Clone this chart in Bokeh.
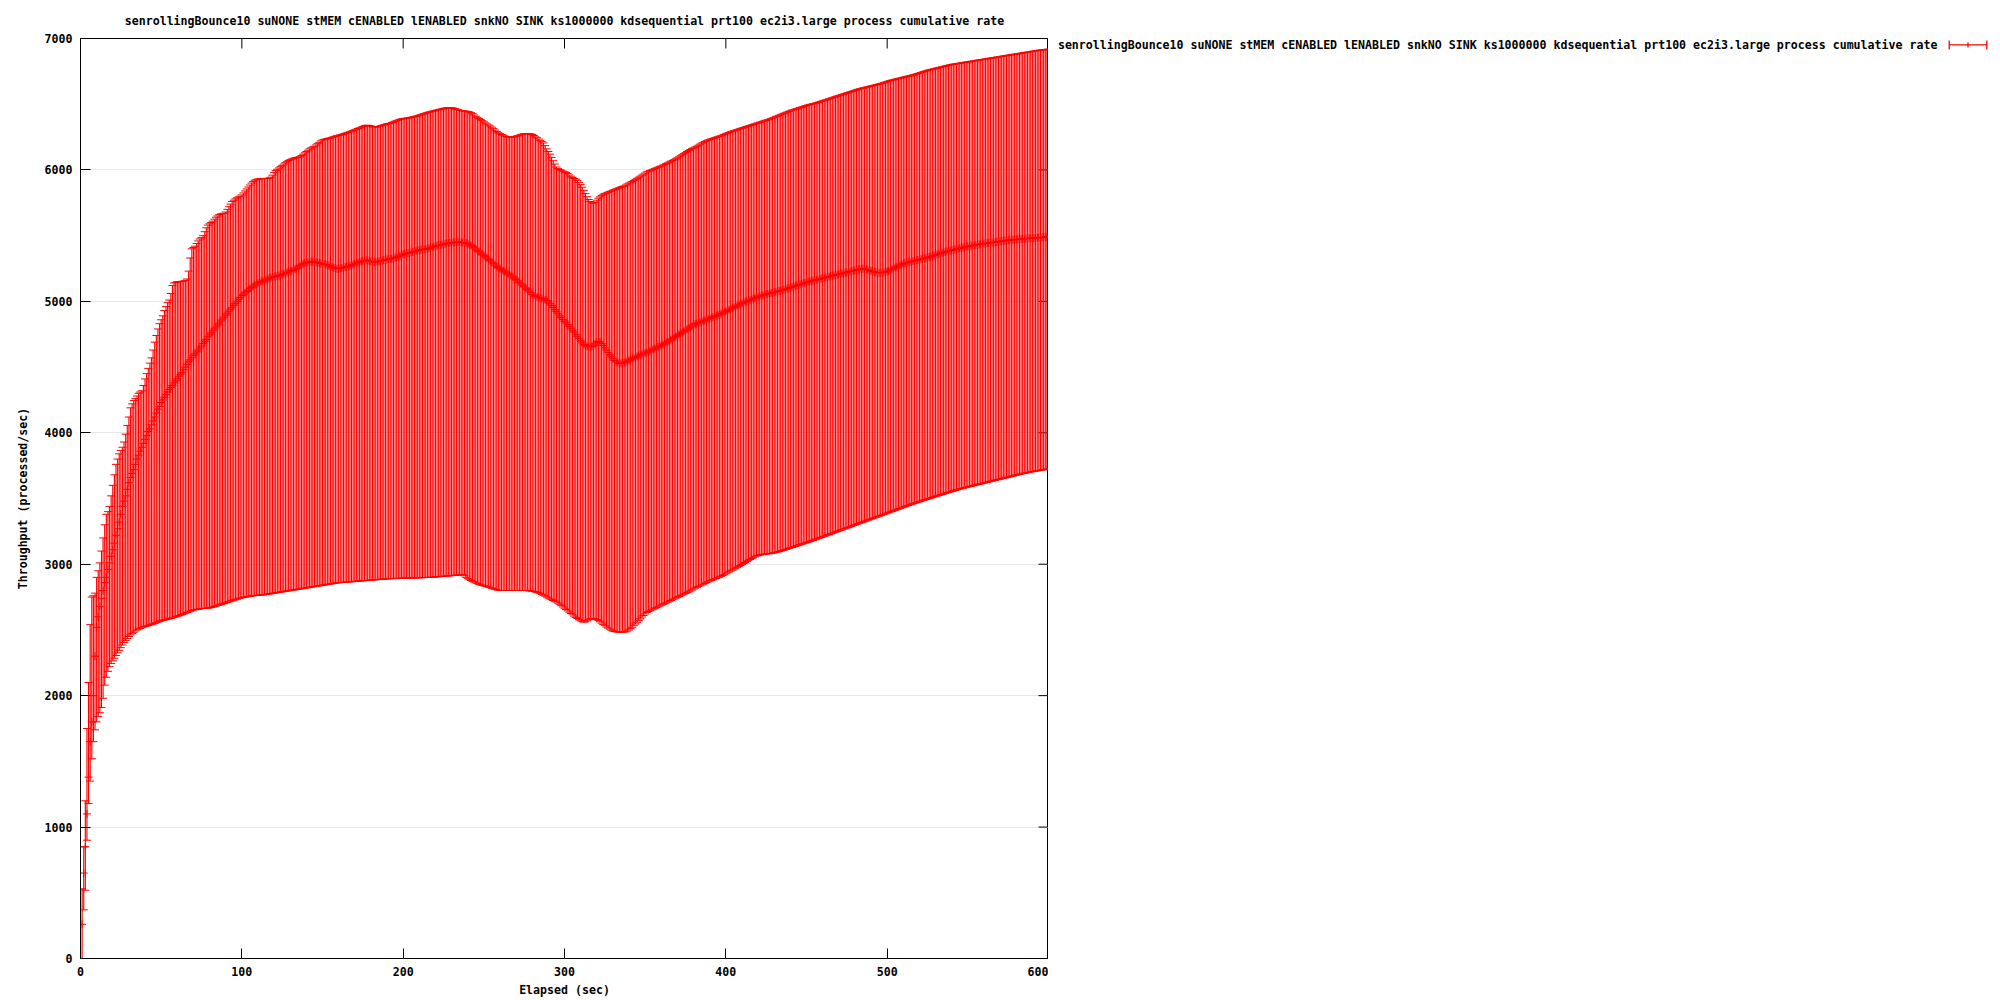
from bokeh.plotting import figure
from bokeh.layouts import row
from bokeh.models import Range1d, FixedTicker, ColumnDataSource
from bokeh.core.properties import value
from bokeh.embed import file_html
from bokeh.resources import INLINE

TITLE = ("senrollingBounce10 suNONE stMEM cENABLED lENABLED snkNO SINK ks1000000 "
         "kdsequential prt100 ec2i3.large process cumulative rate")
SERIES_NAME = TITLE
X_LABEL = "Elapsed (sec)"
Y_LABEL = "Throughput (processed/sec)"
X_TICKS = [0, 100, 200, 300, 400, 500, 600]
Y_TICKS = [0, 1000, 2000, 3000, 4000, 5000, 6000, 7000]

ELAPSED = list(range(1, 601))

LOWER = [
    0, 370, 520, 900, 1180, 1350, 1520, 1650, 1740, 1800,
    1840, 1870, 1910, 1980, 2080, 2140, 2185, 2220, 2245, 2265,
    2285, 2305, 2325, 2345, 2365, 2385, 2405, 2420, 2435, 2450,
    2462, 2472, 2482, 2492, 2500, 2506, 2512, 2517, 2522, 2527,
    2530, 2534, 2538, 2542, 2546, 2550, 2555, 2560, 2565, 2570,
    2573, 2576, 2579, 2582, 2585, 2588, 2592, 2596, 2600, 2604,
    2608, 2612, 2617, 2622, 2627, 2632, 2637, 2642, 2647, 2652,
    2654, 2656, 2658, 2660, 2662, 2663, 2664, 2665, 2666, 2668,
    2671, 2674, 2678, 2682, 2686, 2690, 2694, 2698, 2702, 2706,
    2710, 2714, 2718, 2722, 2726, 2730, 2734, 2738, 2742, 2746,
    2748, 2750, 2752, 2754, 2756, 2758, 2760, 2762, 2763, 2764,
    2765, 2766, 2767, 2768, 2770, 2772, 2774, 2776, 2778, 2780,
    2782, 2784, 2786, 2788, 2790, 2792, 2794, 2796, 2798, 2800,
    2802, 2804, 2806, 2808, 2810, 2812, 2814, 2816, 2818, 2820,
    2822, 2824, 2826, 2828, 2830, 2832, 2834, 2836, 2838, 2840,
    2842, 2844, 2846, 2848, 2850, 2852, 2854, 2856, 2858, 2859,
    2860, 2861, 2862, 2863, 2864, 2865, 2866, 2867, 2868, 2869,
    2870, 2871, 2872, 2873, 2874, 2875, 2876, 2877, 2878, 2879,
    2880, 2881, 2882, 2883, 2884, 2885, 2886, 2887, 2888, 2889,
    2889, 2890, 2890, 2891, 2891, 2892, 2892, 2893, 2893, 2894,
    2894, 2894, 2895, 2895, 2895, 2896, 2896, 2896, 2897, 2897,
    2897, 2898, 2898, 2899, 2899, 2900, 2900, 2901, 2902, 2903,
    2904, 2905, 2906, 2907, 2908, 2909, 2910, 2911, 2912, 2913,
    2914, 2915, 2916, 2917, 2918, 2919, 2920, 2912, 2900, 2890,
    2882, 2876, 2870, 2864, 2858, 2852, 2847, 2843, 2839, 2836,
    2833, 2829, 2825, 2821, 2817, 2813, 2809, 2805, 2802, 2800,
    2800, 2800, 2800, 2800, 2800, 2800, 2800, 2800, 2800, 2800,
    2800, 2800, 2800, 2800, 2800, 2800, 2799, 2798, 2797, 2795,
    2792, 2789, 2786, 2782, 2776, 2770, 2764, 2757, 2750, 2743,
    2736, 2730, 2724, 2718, 2712, 2704, 2695, 2685, 2675, 2665,
    2655, 2645, 2635, 2625, 2615, 2605, 2595, 2587, 2578, 2570,
    2563, 2560, 2562, 2570, 2578, 2585, 2588, 2586, 2584, 2580,
    2572, 2562, 2552, 2542, 2532, 2522, 2514, 2506, 2498, 2492,
    2488, 2486, 2484, 2483, 2483, 2483, 2484, 2486, 2492, 2500,
    2510, 2520, 2532, 2545, 2558, 2572, 2585, 2598, 2610, 2622,
    2633, 2640, 2646, 2652, 2658, 2664, 2670, 2676, 2682, 2688,
    2694, 2700, 2706, 2712, 2718, 2724, 2730, 2736, 2742, 2748,
    2754, 2760, 2766, 2772, 2778, 2784, 2790, 2797, 2804, 2811,
    2818, 2824, 2830, 2836, 2842, 2848, 2854, 2860, 2866, 2872,
    2877, 2882, 2887, 2892, 2897, 2902, 2908, 2914, 2920, 2927,
    2934, 2941, 2948, 2955, 2962, 2969, 2976, 2983, 2990, 2997,
    3005, 3013, 3021, 3029, 3036, 3043, 3050, 3056, 3062, 3066,
    3070, 3073, 3075, 3077, 3078, 3079, 3080, 3082, 3084, 3087,
    3090, 3093, 3096, 3100, 3104, 3108, 3112, 3116, 3120, 3124,
    3128, 3132, 3136, 3140, 3144, 3148, 3152, 3156, 3160, 3164,
    3168, 3172, 3177, 3181, 3186, 3190, 3195, 3199, 3204, 3208,
    3213, 3217, 3222, 3226, 3231, 3235, 3240, 3244, 3249, 3253,
    3258, 3262, 3267, 3271, 3276, 3280, 3285, 3289, 3294, 3298,
    3303, 3308, 3312, 3317, 3321, 3326, 3330, 3335, 3339, 3344,
    3348, 3353, 3357, 3362, 3366, 3371, 3375, 3380, 3384, 3389,
    3393, 3398, 3402, 3407, 3411, 3416, 3420, 3425, 3429, 3434,
    3438, 3443, 3447, 3452, 3456, 3460, 3464, 3468, 3472, 3476,
    3480, 3484, 3488, 3492, 3496, 3500, 3504, 3508, 3512, 3516,
    3520, 3524, 3527, 3531, 3535, 3539, 3543, 3546, 3550, 3554,
    3558, 3561, 3565, 3569, 3572, 3576, 3579, 3582, 3585, 3588,
    3591, 3594, 3597, 3600, 3603, 3606, 3609, 3612, 3615, 3618,
    3621, 3624, 3627, 3630, 3633, 3636, 3639, 3642, 3645, 3648,
    3651, 3654, 3657, 3660, 3663, 3666, 3669, 3672, 3675, 3678,
    3681, 3684, 3687, 3690, 3692, 3695, 3697, 3700, 3702, 3705,
    3707, 3709, 3711, 3713, 3715, 3717, 3719, 3721, 3723, 3727,
]

MEAN = [
    260, 650, 850, 1100, 1380, 1650, 1800, 2000, 2300, 2520,
    2600, 2680, 2740, 2800, 2860, 2900, 2960, 3010, 3060, 3110,
    3160, 3220, 3270, 3320, 3380, 3440, 3480, 3520, 3570, 3620,
    3660, 3690, 3720, 3760, 3800, 3830, 3860, 3890, 3920, 3950,
    3980, 4010, 4030, 4060, 4090, 4120, 4150, 4180, 4200, 4230,
    4250, 4270, 4290, 4310, 4330, 4345, 4360, 4380, 4395, 4410,
    4430, 4445, 4460, 4480, 4500, 4520, 4540, 4555, 4570, 4590,
    4600, 4615, 4630, 4645, 4660, 4680, 4695, 4710, 4730, 4745,
    4760, 4775, 4790, 4805, 4820, 4835, 4850, 4865, 4880, 4895,
    4910, 4925, 4940, 4955, 4970, 4985, 5000, 5015, 5030, 5045,
    5055, 5065, 5075, 5085, 5095, 5105, 5115, 5125, 5130, 5140,
    5145, 5150, 5155, 5160, 5165, 5170, 5175, 5180, 5185, 5188,
    5190, 5193, 5196, 5200, 5205, 5210, 5215, 5220, 5225, 5230,
    5235, 5240, 5245, 5250, 5260, 5270, 5278, 5285, 5290, 5295,
    5298, 5300, 5302, 5303, 5300, 5297, 5294, 5291, 5288, 5285,
    5283, 5281, 5277, 5272, 5266, 5260, 5255, 5250, 5248, 5250,
    5252, 5255, 5258, 5261, 5264, 5267, 5270, 5275, 5280, 5285,
    5290, 5295, 5300, 5304, 5308, 5311, 5313, 5312, 5308, 5304,
    5301, 5300, 5300, 5302, 5305, 5308, 5311, 5314, 5317, 5319,
    5321, 5323, 5325, 5328, 5332, 5336, 5341, 5346, 5352, 5357,
    5361, 5365, 5368, 5370, 5373, 5376, 5380, 5384, 5388, 5390,
    5392, 5394, 5396, 5398, 5400, 5404, 5408, 5412, 5416, 5420,
    5423, 5426, 5429, 5432, 5435, 5438, 5441, 5443, 5445, 5447,
    5448, 5449, 5450, 5450, 5450, 5449, 5448, 5446, 5444, 5440,
    5434, 5427, 5418, 5408, 5398, 5388, 5378, 5368, 5358, 5348,
    5340, 5330, 5320, 5309, 5298, 5287, 5276, 5266, 5257, 5249,
    5241, 5233, 5226, 5218, 5210, 5202, 5194, 5186, 5176, 5166,
    5155, 5144, 5133, 5122, 5111, 5100, 5090, 5078, 5066, 5052,
    5044, 5038, 5034, 5030, 5026, 5022, 5018, 5012, 5006, 4995,
    4982, 4968, 4953, 4938, 4922, 4906, 4890, 4876, 4862, 4849,
    4836, 4823, 4810, 4796, 4782, 4766, 4750, 4734, 4718, 4700,
    4684, 4672, 4664, 4658, 4655, 4655, 4658, 4665, 4676, 4688,
    4694, 4692, 4680, 4664, 4646, 4628, 4610, 4594, 4578, 4564,
    4550, 4540, 4532, 4528, 4528, 4530, 4534, 4540, 4546, 4552,
    4558, 4564, 4570, 4575, 4580, 4586, 4592, 4597, 4602, 4607,
    4612, 4617, 4623, 4629, 4635, 4641, 4647, 4653, 4659, 4665,
    4672, 4679, 4686, 4693, 4700, 4708, 4716, 4724, 4732, 4740,
    4748, 4756, 4764, 4772, 4780, 4788, 4796, 4804, 4812, 4820,
    4826, 4831, 4836, 4840, 4845, 4850, 4855, 4860, 4865, 4870,
    4875, 4880, 4885, 4890, 4895, 4900, 4906, 4912, 4918, 4924,
    4930, 4936, 4942, 4948, 4954, 4960, 4966, 4972, 4978, 4984,
    4990, 4995, 5000, 5005, 5010, 5015, 5020, 5025, 5030, 5035,
    5039, 5043, 5047, 5051, 5055, 5058, 5061, 5064, 5067, 5070,
    5073, 5076, 5079, 5082, 5085, 5089, 5093, 5097, 5101, 5105,
    5109, 5113, 5117, 5121, 5125, 5129, 5133, 5137, 5141, 5145,
    5149, 5152, 5155, 5158, 5161, 5164, 5167, 5170, 5173, 5176,
    5179, 5182, 5185, 5188, 5191, 5194, 5197, 5200, 5203, 5206,
    5209, 5212, 5215, 5218, 5221, 5224, 5227, 5230, 5233, 5236,
    5239, 5242, 5245, 5247, 5248, 5246, 5243, 5239, 5235, 5231,
    5227, 5224, 5221, 5219, 5218, 5218, 5219, 5221, 5224, 5228,
    5233, 5239, 5245, 5251, 5257, 5263, 5269, 5275, 5281, 5287,
    5291, 5294, 5297, 5300, 5303, 5306, 5309, 5312, 5315, 5318,
    5321, 5324, 5327, 5330, 5333, 5337, 5341, 5345, 5349, 5353,
    5357, 5361, 5365, 5369, 5373, 5377, 5380, 5383, 5386, 5389,
    5392, 5395, 5398, 5401, 5404, 5407, 5410, 5413, 5416, 5419,
    5421, 5423, 5425, 5427, 5429, 5431, 5433, 5435, 5437, 5439,
    5441, 5443, 5445, 5446, 5447, 5448, 5450, 5452, 5454, 5456,
    5458, 5460, 5462, 5464, 5466, 5467, 5468, 5469, 5470, 5471,
    5472, 5473, 5474, 5475, 5476, 5477, 5478, 5479, 5480, 5481,
    5482, 5483, 5484, 5485, 5486, 5487, 5488, 5489, 5490, 5492,
]

UPPER = [
    530, 850, 1200, 1750, 2100, 2540, 2750, 2760, 2780, 2900,
    2950, 3010, 3100, 3200, 3300, 3380, 3400, 3440, 3520, 3600,
    3680, 3760, 3800, 3840, 3866, 3890, 3930, 3990, 4056, 4120,
    4190, 4220, 4245, 4260, 4280, 4300, 4310, 4320, 4360, 4410,
    4450, 4490, 4530, 4570, 4630, 4690, 4740, 4790, 4830, 4860,
    4890, 4930, 4960, 4990, 5010, 5060, 5120, 5140, 5145, 5150,
    5150, 5150, 5152, 5155, 5160, 5170, 5230, 5330, 5400, 5410,
    5420, 5440, 5460, 5475, 5485, 5500, 5530, 5560, 5580, 5590,
    5600, 5610, 5625, 5640, 5650, 5660, 5665, 5668, 5670, 5680,
    5700, 5720, 5740, 5760, 5770, 5780, 5788, 5795, 5800, 5810,
    5825, 5840, 5855, 5870, 5885, 5900, 5912, 5922, 5928, 5930,
    5932, 5933, 5934, 5935, 5935, 5936, 5938, 5945, 5960, 5980,
    5995, 6005, 6015, 6025, 6035, 6045, 6055, 6065, 6072, 6078,
    6083, 6088, 6092, 6095, 6097, 6100, 6110, 6120, 6130, 6140,
    6150, 6160, 6168, 6174, 6180, 6190, 6200, 6210, 6220, 6228,
    6232, 6235, 6238, 6241, 6244, 6248, 6252, 6256, 6260, 6263,
    6266, 6270, 6274, 6278, 6282, 6286, 6290, 6295, 6300, 6305,
    6310, 6315, 6320, 6325, 6330, 6335, 6339, 6340, 6338, 6334,
    6330, 6327, 6326, 6328, 6331, 6335, 6339, 6343, 6347, 6350,
    6352, 6355, 6360, 6365, 6370, 6375, 6380, 6384, 6388, 6390,
    6392, 6394, 6396, 6398, 6400, 6403, 6406, 6408, 6412, 6416,
    6420, 6424, 6428, 6432, 6436, 6440, 6443, 6446, 6449, 6452,
    6455, 6458, 6461, 6464, 6467, 6470, 6472, 6474, 6474, 6473,
    6470, 6466, 6462, 6458, 6454, 6452, 6450, 6448, 6446, 6444,
    6441, 6436, 6428, 6418, 6408, 6400, 6392, 6384, 6375, 6366,
    6358, 6350, 6342, 6334, 6325, 6314, 6303, 6292, 6283, 6276,
    6270, 6264, 6258, 6254, 6251, 6250, 6250, 6250, 6252, 6256,
    6260, 6264, 6268, 6272, 6275, 6277, 6277, 6276, 6274, 6270,
    6262, 6252, 6245, 6235, 6225, 6215, 6205, 6185, 6160, 6140,
    6120, 6095, 6070, 6045, 6022, 6010, 6003, 5997, 5991, 5986,
    5981, 5972, 5962, 5952, 5942, 5935, 5930, 5920, 5905, 5888,
    5868, 5845, 5820, 5796, 5775, 5760, 5750, 5748, 5755, 5770,
    5785, 5795, 5805, 5815, 5820, 5825, 5830, 5835, 5840, 5845,
    5850, 5855, 5860, 5865, 5870, 5874, 5878, 5885, 5893, 5900,
    5907, 5912, 5920, 5928, 5936, 5944, 5952, 5960, 5968, 5976,
    5985, 5990, 5995, 6000, 6005, 6010, 6015, 6020, 6025, 6030,
    6036, 6042, 6048, 6054, 6060, 6066, 6072, 6078, 6085, 6092,
    6100, 6108, 6116, 6124, 6132, 6140, 6148, 6155, 6162, 6168,
    6174, 6180, 6188, 6196, 6204, 6210, 6216, 6222, 6227, 6232,
    6236, 6240, 6244, 6248, 6252, 6256, 6260, 6265, 6270, 6275,
    6280, 6285, 6290, 6294, 6298, 6302, 6306, 6310, 6314, 6318,
    6322, 6326, 6330, 6334, 6338, 6342, 6346, 6350, 6354, 6358,
    6362, 6366, 6370, 6374, 6378, 6382, 6386, 6390, 6395, 6400,
    6405, 6410, 6415, 6420, 6425, 6430, 6435, 6440, 6445, 6450,
    6455, 6458, 6462, 6466, 6470, 6474, 6478, 6482, 6486, 6490,
    6494, 6497, 6500, 6503, 6506, 6509, 6513, 6517, 6521, 6525,
    6529, 6533, 6537, 6541, 6545, 6549, 6553, 6557, 6561, 6565,
    6569, 6573, 6577, 6581, 6585, 6589, 6593, 6597, 6601, 6605,
    6609, 6613, 6617, 6620, 6623, 6626, 6629, 6632, 6635, 6638,
    6641, 6644, 6647, 6650, 6653, 6656, 6660, 6664, 6668, 6672,
    6676, 6680, 6683, 6686, 6689, 6692, 6695, 6698, 6701, 6704,
    6707, 6710, 6713, 6716, 6719, 6722, 6725, 6729, 6733, 6737,
    6741, 6745, 6749, 6753, 6757, 6760, 6763, 6766, 6769, 6772,
    6775, 6778, 6781, 6784, 6787, 6790, 6793, 6796, 6799, 6802,
    6804, 6806, 6808, 6810, 6812, 6814, 6816, 6818, 6820, 6822,
    6824, 6826, 6828, 6830, 6832, 6834, 6836, 6838, 6840, 6842,
    6844, 6846, 6848, 6850, 6852, 6854, 6856, 6858, 6860, 6862,
    6864, 6866, 6868, 6870, 6872, 6874, 6876, 6878, 6880, 6882,
    6884, 6886, 6888, 6890, 6892, 6894, 6896, 6898, 6900, 6902,
    6904, 6906, 6908, 6910, 6912, 6913, 6914, 6915, 6917, 6920,
]

assert len(ELAPSED) == len(LOWER) == len(MEAN) == len(UPPER)

RED = "#ff0000"
FONT = "DejaVu Sans Mono"
FS = "11.6px"
FW, FH = 968, 920          # plot frame size in px
LEFT, TOP, BOTTOM = 80, 38, 42
X0, X1 = 0, 600
Y0, Y1 = 0, 7000
TICK = 10                  # inward tick length, px

p = figure(frame_width=FW, frame_height=FH,
           min_border_left=LEFT, min_border_right=0,
           min_border_top=TOP, min_border_bottom=BOTTOM,
           x_range=Range1d(X0, X1), y_range=Range1d(Y0, Y1),
           output_backend="svg", toolbar_location=None,
           background_fill_color="white", border_fill_color="white")
p.outline_line_color = "black"
p.outline_line_width = 1
p.xgrid.grid_line_color = None
p.ygrid.grid_line_color = "#e8e8e8"
p.ygrid.ticker = FixedTicker(ticks=Y_TICKS)

p.title.text = TITLE
p.title.align = "center"
p.title.text_font = FONT
p.title.text_font_style = "bold"
p.title.text_font_size = FS
p.title.text_color = "black"
p.title.standoff = 21.5


def style_axis(ax, ticks):
    ax.ticker = FixedTicker(ticks=ticks)
    ax.major_tick_in = TICK
    ax.major_tick_out = 0
    ax.minor_tick_line_color = None
    ax.axis_line_color = "black"
    ax.major_tick_line_color = "black"
    ax.major_label_text_font = FONT
    ax.major_label_text_font_style = "bold"
    ax.major_label_text_font_size = FS
    ax.major_label_text_color = "black"
    ax.axis_label_text_font = FONT
    ax.axis_label_text_font_style = "bold"
    ax.axis_label_text_font_size = FS
    ax.axis_label_text_color = "black"


xa = p.xaxis[0]
style_axis(xa, X_TICKS)
xa.axis_label = X_LABEL
xa.major_label_standoff = 8
xa.axis_label_standoff = 4

ya = p.yaxis[0]
style_axis(ya, Y_TICKS)
ya.axis_label = Y_LABEL
ya.major_label_standoff = 8
ya.axis_label_standoff = 12

# mirrored inward ticks on the top and right borders (gnuplot style)
px_x = (X1 - X0) / FW
px_y = (Y1 - Y0) / FH
p.segment(x0=X_TICKS, y0=[Y1] * len(X_TICKS), x1=X_TICKS,
          y1=[Y1 - TICK * px_y] * len(X_TICKS), line_color="black", line_width=1)
p.segment(x0=[X1 - TICK * px_x] * len(Y_TICKS), y0=Y_TICKS,
          x1=[X1] * len(Y_TICKS), y1=Y_TICKS, line_color="black", line_width=1)

src = ColumnDataSource(dict(t=ELAPSED, lo=LOWER, mid=MEAN, hi=UPPER))
p.segment(x0="t", y0="lo", x1="t", y1="hi", source=src,
          line_color=RED, line_width=1.15)
p.scatter(x="t", y="lo", source=src, marker="dash", size=8,
          line_color=RED, line_width=1)
p.scatter(x="t", y="hi", source=src, marker="dash", size=8,
          line_color=RED, line_width=1)
p.scatter(x="t", y="mid", source=src, marker="cross", size=8,
          line_color=RED, line_width=1)

# key panel to the right of the plot: text, then an error-bar sample.
# (its frame top lines up with the plot frame top inside the row)
KW, KH = 2000 - (LEFT + FW), 100
k = figure(frame_width=KW, frame_height=KH,
           x_range=Range1d(0, KW), y_range=Range1d(KH, 0),
           x_axis_type=None, y_axis_type=None,
           min_border_left=0, min_border_right=0, min_border_top=0, min_border_bottom=0,
           output_backend="svg", toolbar_location=None,
           background_fill_color="white", border_fill_color="white")
k.outline_line_color = None
k.grid.grid_line_color = None
KEY_Y = 6.4
k.text(x=[9.4], y=[KEY_Y], text=[SERIES_NAME], text_align="left",
       text_baseline="middle", text_font=value(FONT), text_font_style="bold",
       text_font_size=value(FS), text_color="black")
SX0, SX1 = 900.7, 938.3
SXM = (SX0 + SX1) / 2
k.segment(x0=[SX0, SX0, SX1, SXM], y0=[KEY_Y, KEY_Y - 4.5, KEY_Y - 4.5, KEY_Y - 2.5],
          x1=[SX1, SX0, SX1, SXM], y1=[KEY_Y, KEY_Y + 4.5, KEY_Y + 4.5, KEY_Y + 2.5],
          line_color=RED, line_width=1.3)

layout = row(p, k, spacing=0)
open("out.html", "w").write(file_html(layout, INLINE))
